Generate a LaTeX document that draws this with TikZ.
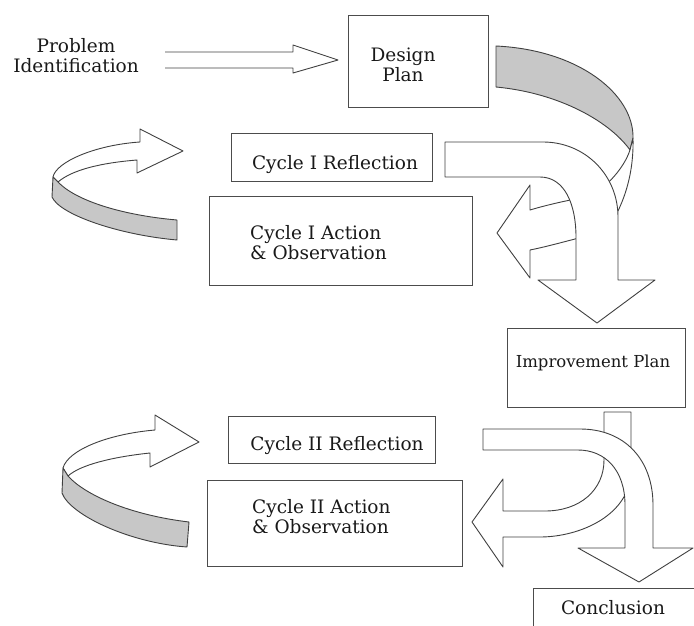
\documentclass[tikz,border=0pt]{standalone}
\usepackage{fontspec}
\setmainfont{DejaVu Serif}
\begin{document}
\begin{tikzpicture}[x=1pt,y=-1pt,
  box/.style={draw=black!70, line width=1.2pt, fill=white, inner sep=0pt},
  lbl/.style={font=\fontsize{18.5}{20}\selectfont, text=black!90, align=center, inner sep=0pt},
  blk/.style={draw=black!75, line width=0.9pt, fill=white, line join=round},
  ribbon/.style={draw=black!75, line width=0.9pt, fill=black!22, line join=round}]
\useasboundingbox (0,0) rectangle (694,626);
\clip (0,0) rectangle (694,626);

% boxes
\node[box, anchor=north west, minimum width=140, minimum height=92] (design) at (348,15) {};
\node[box, anchor=north west, minimum width=201, minimum height=48] (c1refl) at (231,133) {};
\node[box, anchor=north west, minimum width=263, minimum height=89] (c1act) at (209,196) {};
\node[box, anchor=north west, minimum width=178, minimum height=79] (impr) at (507,328) {};
\node[box, anchor=north west, minimum width=207, minimum height=47] (c2refl) at (228,416) {};
\node[box, anchor=north west, minimum width=255, minimum height=86] (c2act) at (207,480) {};
\node[box, anchor=north west, minimum width=200, minimum height=60] (concl) at (533,588) {};

% texts
\node[lbl] (probtxt) at (76,56) {Problem\\Identification};
\node[lbl] (designtxt) at (403,65) {Design\\Plan};
\node[lbl] (c1rtxt) at (335,165) {Cycle I Reflection};
\node[lbl, align=left, anchor=west] (c1atxt) at (250,243) {Cycle I Action\\\& Observation};
\node[lbl, font=\fontsize{16.5}{20}\selectfont] (imptxt) at (593,363) {Improvement Plan};
\node[lbl] (c2rtxt) at (337,446) {Cycle II Reflection};
\node[lbl, align=left, anchor=west] (c2atxt) at (252,517) {Cycle II Action\\\& Observation};
\node[lbl] (conctxt) at (613,608) {Conclusion};

% double-line arrow
\draw[blk, fill=none] (165,52) -- (293,52) -- (293,45) -- (338,60) -- (293,73) -- (293,68) -- (165,68);

% left loop arrow (cycle I)
\draw[blk] (140,142) -- (140,129) -- (183,151) -- (137,173) -- (137,160)
  .. controls (100,163) and (72,170) .. (58,182) -- (53,177)
  .. controls (56,162) and (95,145) .. (140,142) -- cycle;
\draw[ribbon] (53,177) -- (52,197) .. controls (60,215) and (120,235) .. (177,240)
  -- (177,220) .. controls (120,215) and (75,200) .. (58,182) -- cycle;

% left loop arrow (cycle II)
\draw[blk] (155,430) -- (155,415) -- (199,442) -- (150,467) -- (150,453)
  .. controls (112,457) and (80,465) .. (68,476) -- (63,468)
  .. controls (68,450) and (108,434) .. (155,430) -- cycle;
\draw[ribbon] (63,468) -- (62,493) .. controls (70,515) and (130,543) .. (187,547)
  -- (189,522) .. controls (130,515) and (85,495) .. (68,476) -- cycle;

% ribbon from design plan
\draw[ribbon] (496,46) .. controls (580,50) and (634,95) .. (633,138)
  -- (630,150) .. controls (610,122) and (560,93) .. (496,87) -- cycle;
\draw[blk] (633,138) .. controls (634,178) and (622,208) .. (606,232)
  -- (592,196) .. controls (608,185) and (624,168) .. (630,150) -- cycle;

% small left arrow to cycle I action
\draw[blk] (590,196) .. controls (570,200) and (550,204) .. (530,210) -- (530,185) -- (497,233)
  -- (530,278) -- (530,250) .. controls (550,246) and (570,240) .. (595,234) -- cycle;

% big arrow reflection -> improvement plan
\draw[blk] (445,142) -- (543,142) .. controls (585,142) and (618,175) .. (618,217)
  -- (618,280) -- (655,280) -- (597,323) -- (538,280) -- (576,280) -- (576,237)
  .. controls (576,205) and (565,177) .. (540,177) -- (445,177) -- cycle;

% arrow improvement plan -> cycle II action
\draw[blk] (604,412) -- (631,412) -- (631,470) .. controls (631,515) and (580,537) .. (540,537)
  -- (503,537) -- (503,567) -- (472,522) -- (503,479) -- (503,511) -- (545,511)
  .. controls (580,511) and (604,490) .. (604,460) -- cycle;

% big arrow cycle II reflection -> conclusion
\draw[blk] (483,429) -- (580,429) .. controls (625,429) and (653,460) .. (653,505)
  -- (653,548) -- (693,548) -- (639,582) -- (578,548) -- (625,548) -- (625,505)
  .. controls (625,470) and (605,450) .. (578,450) -- (483,450) -- cycle;
\end{tikzpicture}
\end{document}
